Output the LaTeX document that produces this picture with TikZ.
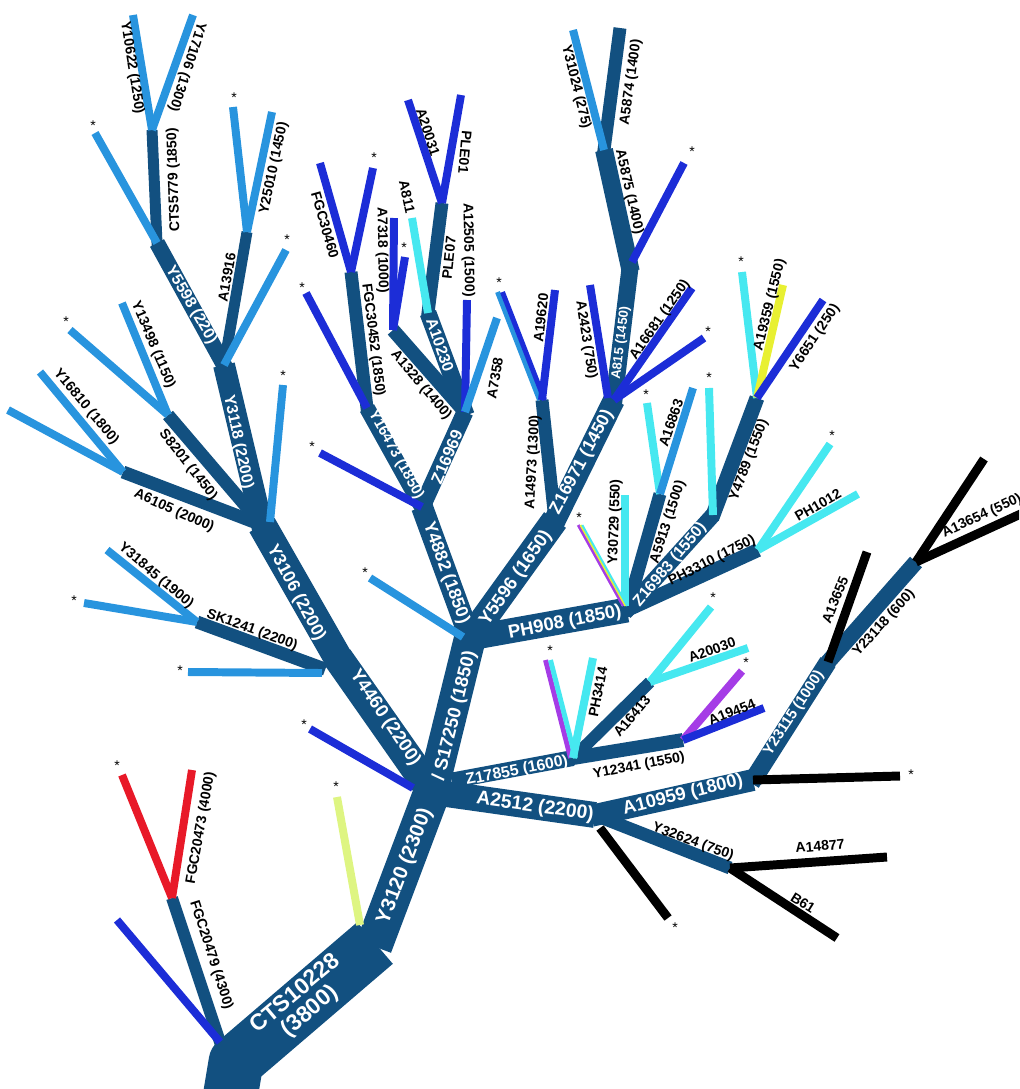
\documentclass[tikz,border=0pt]{standalone}
\usepackage{fontspec}
\setmainfont{Liberation Sans}
\definecolor{cbar}{RGB}{18,80,128}
\definecolor{csky}{RGB}{40,148,222}
\definecolor{croy}{RGB}{28,45,215}
\definecolor{ccyan}{RGB}{70,232,240}
\definecolor{cred}{RGB}{232,25,40}
\definecolor{cyg}{RGB}{222,245,130}
\definecolor{cyel}{RGB}{232,240,50}
\definecolor{cpur}{RGB}{165,60,230}
\begin{document}
\begin{tikzpicture}[x=0.02cm,y=-0.02cm,
  lw/.style={line width=#1*0.5669pt},
  bar/.style={draw=cbar, lw=#1, shorten <=-2pt},
  lf/.style={draw=#1, lw=8},
  blk/.style={draw=black, lw=9},
  lab/.style={text=black, inner sep=0pt, font=\fontsize{8}{9}\selectfont\bfseries},
  wl/.style={text=white, inner sep=0pt, align=center, font=\fontsize{#1}{#1}\selectfont\bfseries},
  st/.style={inner sep=0pt, font=\fontsize{8}{8}\selectfont}]
\useasboundingbox (0,0) rectangle (1019,1089);
\clip (0,0) rectangle (1019,1089);
% ---------- coordinates ----------
\coordinate (t0) at (228,1110);
\coordinate (t1) at (236,1062);
\coordinate (t2) at (375,943);
\coordinate (t3) at (432,792);
\coordinate (y44) at (338,658);
\coordinate (y31) at (262,525);
\coordinate (y3118) at (224,365);
\coordinate (y55) at (157,243);
\coordinate (cts) at (152,130);
\coordinate (a139) at (247,232);
\coordinate (a61) at (123,472);
\coordinate (s82) at (168,415);
\coordinate (sk0) at (322,668);
\coordinate (sk) at (197,622);
\coordinate (fgcA) at (220,1042);
\coordinate (fgc) at (172,898);
\coordinate (s17) at (470,638);
\coordinate (y48) at (422,507);
\coordinate (y16) at (367,408);
\coordinate (fgc3) at (351,272);
\coordinate (z169) at (465,412);
\coordinate (a1328) at (393,330);
\coordinate (a102) at (428,313);
\coordinate (ple) at (442,203);
\coordinate (y5596) at (555,520);
\coordinate (a149) at (542,400);
\coordinate (z1697) at (614,400);
\coordinate (a815) at (630,268);
\coordinate (a5875) at (604,150);
\coordinate (a5874) at (620,28);
\coordinate (ph908) at (627,610);
\coordinate (a5913) at (660,494);
\coordinate (z1698) at (713,515);
\coordinate (y4789) at (757,398);
\coordinate (ph33) at (758,550);
\coordinate (z178s) at (455,780);
\coordinate (z178) at (573,758);
\coordinate (a164) at (650,682);
\coordinate (y123) at (683,740);
\coordinate (a2512) at (595,815);
\coordinate (a109) at (753,780);
\coordinate (y231) at (828,662);
\coordinate (y2318) at (916,562);
\coordinate (y326) at (730,868);
% ---------- bars ----------
\draw[draw=cbar, lw=55, line join=round] (t0) -- (t1) -- (t2);
\draw[bar=37] (t2) -- (t3);
\draw[bar=30] (t3) -- (y44);
\draw[bar=29] (y44) -- (y31);
\draw[bar=22] (y31) -- (y3118);
\draw[bar=16] (y3118) -- (y55);
\draw[bar=11] (y55) -- (cts);
\draw[bar=11] (y3118) -- (a139);
\draw[bar=13] (y31) -- (a61);
\draw[bar=13] (y31) -- (s82);
\draw[bar=13] (sk0) -- (sk);
\draw[bar=12] (fgcA) -- (fgc);
\draw[bar=32] (t3) -- (s17);
\draw[bar=22] (s17) -- (y48);
\draw[bar=16] (y48) -- (y16);
\draw[bar=13] (y16) -- (fgc3);
\draw[bar=17] (y48) -- (z169);
\draw[bar=14] (z169) -- (a1328);
\draw[bar=17] (z169) -- (a102);
\draw[bar=13] (a102) -- (ple);
\draw[bar=27] (s17) -- (y5596);
\draw[bar=13] (y5596) -- (a149);
\draw[bar=22] (y5596) -- (z1697);
\draw[bar=17] (z1697) -- (a815);
\draw[bar=18] (a815) -- (a5875);
\draw[bar=13] (a5875) -- (a5874);
\draw[bar=25] (s17) -- (ph908);
\draw[bar=13] (ph908) -- (a5913);
\draw[bar=16] (ph908) -- (z1698);
\draw[bar=15] (z1698) -- (y4789);
\draw[bar=14] (ph908) -- (ph33);
\draw[bar=16] (z178s) -- (z178);
\draw[bar=12] (z178) -- (a164);
\draw[bar=14] (z178) -- (y123);
\draw[bar=26] (t3) -- (a2512);
\draw[bar=22] (a2512) -- (a109);
\draw[bar=18] (a109) -- (y231);
\draw[bar=16] (y231) -- (y2318);
\draw[bar=13] (a2512) -- (y326);
% ---------- leaf end points ----------
\coordinate (e1) at (133,15);
\coordinate (e2) at (193,15);
\coordinate (e3) at (95,133);
\coordinate (e4) at (233,107);
\coordinate (e5) at (272,112);
\coordinate (e6) at (286,250);
\coordinate (e7) at (122,303);
\coordinate (e8) at (70,330);
\coordinate (e9) at (40,372);
\coordinate (e10) at (8,410);
\coordinate (y31b) at (270,522);
\coordinate (e11) at (283,385);
\coordinate (e12) at (107,550);
\coordinate (e13) at (84,603);
\coordinate (y44b) at (322,673);
\coordinate (e14) at (188,672);
\coordinate (e15) at (117,920);
\coordinate (t3b) at (413,788);
\coordinate (e16) at (310,729);
\coordinate (t2b) at (360,925);
\coordinate (e17) at (337,797);
\coordinate (e18) at (122,775);
\coordinate (e19) at (192,770);
\coordinate (e20) at (320,453);
\coordinate (e21) at (306,293);
\coordinate (e22) at (320,163);
\coordinate (e23) at (373,168);
\coordinate (e24) at (394,218);
\coordinate (e25) at (405,257);
\coordinate (e26) at (408,100);
\coordinate (e27) at (461,95);
\coordinate (e28) at (412,218);
\coordinate (e29) at (467,300);
\coordinate (e30) at (497,318);
\coordinate (s17b) at (463,637);
\coordinate (e31) at (370,578);
\coordinate (e32) at (500,292);
\coordinate (e33) at (555,290);
\coordinate (e34) at (573,30);
\coordinate (a815b) at (632,262);
\coordinate (e35) at (684,163);
\coordinate (z1697b) at (608,398);
\coordinate (e36) at (590,285);
\coordinate (e37) at (692,288);
\coordinate (e38) at (704,338);
\coordinate (ph908b) at (625,606);
\coordinate (e39) at (625,495);
\coordinate (e40) at (580,525);
\coordinate (e41) at (647,403);
\coordinate (e42) at (693,388);
\coordinate (e43) at (709,388);
\coordinate (e44) at (742,272);
\coordinate (e45) at (783,285);
\coordinate (e46) at (823,300);
\coordinate (e47) at (830,444);
\coordinate (e48) at (858,494);
\coordinate (e49) at (548,660);
\coordinate (e50) at (593,658);
\coordinate (e51) at (711,607);
\coordinate (e52) at (748,648);
\coordinate (e53) at (742,671);
\coordinate (e54) at (764,708);
\coordinate (e55) at (900,776);
\coordinate (e56) at (867,552);
\coordinate (e57) at (984,459);
\coordinate (e58) at (1025,512);
\coordinate (a2512b) at (600,828);
\coordinate (e59) at (668,918);
\coordinate (e60) at (887,857);
\coordinate (e61) at (837,938);
% ---------- leaves ----------
\draw[lf=csky] (cts) -- (e1);
\draw[lf=csky] (cts) -- (e2);
\draw[lf=csky] (y55) -- (e3);
\draw[lf=csky] (a139) -- (e4);
\draw[lf=csky] (a139) -- (e5);
\draw[lf=csky] (y3118) -- (e6);
\draw[lf=csky] (s82) -- (e7);
\draw[lf=csky] (s82) -- (e8);
\draw[lf=csky] (a61) -- (e9);
\draw[lf=csky] (a61) -- (e10);
\draw[lf=csky] (y31b) -- (e11);
\draw[lf=csky] (sk) -- (e12);
\draw[lf=csky] (sk) -- (e13);
\draw[lf=csky] (y44b) -- (e14);
\draw[lf=croy] (fgcA) -- (e15);
\draw[lf=croy] (t3b) -- (e16);
\draw[lf=cyg] (t2b) -- (e17);
\draw[lf=cred] (fgc) -- (e18);
\draw[lf=cred] (fgc) -- (e19);
\draw[lf=croy] (y48) -- (e20);
\draw[lf=croy] (y16) -- (e21);
\draw[lf=croy] (fgc3) -- (e22);
\draw[lf=croy] (fgc3) -- (e23);
\draw[lf=croy] (a1328) -- (e24);
\draw[lf=croy] (a1328) -- (e25);
\draw[lf=croy] (ple) -- (e26);
\draw[lf=croy] (ple) -- (e27);
\draw[lf=ccyan] (a102) -- (e28);
\draw[lf=croy] (z169) -- (e29);
\draw[lf=csky] (z169) -- (e30);
\draw[lf=csky] (s17b) -- (e31);
\draw[draw=csky, lw=5] ([xshift=-1.4pt]a149) -- ([xshift=-1.4pt]e32);
\draw[draw=croy, lw=5] ([xshift=1.4pt]a149) -- ([xshift=1.4pt]e32);
\draw[lf=croy] (a149) -- (e33);
\draw[lf=csky] (a5875) -- (e34);
\draw[lf=croy] (a815b) -- (e35);
\draw[lf=croy] (z1697b) -- (e36);
\draw[lf=croy] (z1697) -- (e37);
\draw[lf=croy] (z1697) -- (e38);
\draw[lf=ccyan] (ph908b) -- (e39);
\draw[draw=cpur, lw=3] ([xshift=-1pt]ph908b) -- ([xshift=-1pt]e40);
\draw[draw=cyel, lw=2] ([xshift=0.3pt]ph908b) -- ([xshift=0.3pt]e40);
\draw[draw=ccyan, lw=2] ([xshift=1.3pt]ph908b) -- ([xshift=1.3pt]e40);
\draw[lf=ccyan] (a5913) -- (e41);
\draw[lf=csky] (a5913) -- (e42);
\draw[lf=ccyan] (z1698) -- (e43);
\draw[lf=ccyan] (y4789) -- (e44);
\draw[lf=cyel] (y4789) -- (e45);
\draw[lf=croy] (y4789) -- (e46);
\draw[lf=ccyan] (ph33) -- (e47);
\draw[lf=ccyan] (ph33) -- (e48);
\draw[draw=cpur, lw=5] ([xshift=-1.4pt]z178) -- ([xshift=-1.4pt]e49);
\draw[draw=ccyan, lw=5] ([xshift=1.4pt]z178) -- ([xshift=1.4pt]e49);
\draw[lf=ccyan] (z178) -- (e50);
\draw[lf=ccyan] (a164) -- (e51);
\draw[lf=ccyan] (a164) -- (e52);
\draw[lf=cpur] (y123) -- (e53);
\draw[lf=croy] (y123) -- (e54);
\draw[blk] (a109) -- (e55);
\draw[blk] (y231) -- (e56);
\draw[blk] (y2318) -- (e57);
\draw[blk] (y2318) -- (e58);
\draw[blk] (a2512b) -- (e59);
\draw[blk] (y326) -- (e60);
\draw[blk] (y326) -- (e61);
% ---------- labels ----------
\node[lab, rotate=-81] (n1) at (132,68) {Y10622 (1250)};
\node[lab, rotate=-108] (n2) at (187,67) {Y17106 (1300)};
\node[lab, rotate=92] (n3) at (174,180) {CTS5779 (1850)};
\node[wl=9, rotate=-60] (n4) at (191,305) {Y5598 (220)};
\node[lab, rotate=80] (n5) at (227,277) {A13916};
\node[lab, rotate=78] (n6) at (274,168) {Y25010 (1450)};
\node[lab, rotate=-67] (n7) at (153,345) {Y13498 (1150)};
\node[lab, rotate=-50] (n8) at (86,407) {Y16810 (1800)};
\node[lab, rotate=-52] (n9) at (188,465) {S8201 (1450)};
\node[lab, rotate=-24] (n10) at (174,511) {A6105 (2000)};
\node[lab, rotate=-40] (n11) at (156,576) {Y31845 (1900)};
\node[lab, rotate=-20] (n12) at (252,630) {SK1241 (2200)};
\node[wl=9, rotate=-78] (n13) at (238,442) {Y3118 (2200)};
\node[wl=10, rotate=-62] (n14) at (296,593) {Y3106 (2200)};
\node[wl=10.5, rotate=-56] (n15) at (385,718) {Y4460 (2200)};
\node[wl=10.5, rotate=76] (n16) at (455,716) {/ S17250 (1850)};
\node[wl=11.5, rotate=69] (n17) at (405,866) {Y3120 (2300)};
\node[wl=13, rotate=40] (n18) at (303,1003) {CTS10228\\(3800)};
\node[lab, rotate=-72] (n19) at (211,955) {FGC20479 (4300)};
\node[lab, rotate=80] (n20) at (201,828) {FGC20473 (4000)};
\node[lab, rotate=-74] (n21) at (325,225) {FGC30460};
\node[lab, rotate=-89] (n22) at (382,250) {A7318 (1000)};
\node[lab, rotate=-83] (n23) at (373,340) {FGC30452 (1850)};
\node[lab, rotate=-78] (n24) at (407,197) {A811};
\node[lab, rotate=-72] (n25) at (428,132) {A20031};
\node[lab, rotate=-95] (n26) at (465,152) {PLE01};
\node[lab, rotate=84] (n27) at (449,258) {PLE07};
\node[lab, rotate=-89] (n28) at (468,250) {A12505 (1500)};
\node[wl=9, rotate=-71] (n29) at (440,345) {A10230};
\node[lab, rotate=-50] (n30) at (421,385) {A1328 (1400)};
\node[lab, rotate=80] (n31) at (495,378) {A7358};
\node[wl=8.5, rotate=-61] (n32) at (396,455) {Y16473 (1850)};
\node[wl=9.5, rotate=67] (n33) at (447,457) {Z16969};
\node[wl=10, rotate=-70] (n34) at (446,573) {Y4882 (1850)};
\node[lab, rotate=87] (n35) at (533,462) {A14973 (1300)};
\node[lab, rotate=84] (n36) at (541,318) {A19620};
\node[lab, rotate=-81] (n37) at (586,340) {A2423 (750)};
\node[wl=7.5, rotate=83] (n38) at (621,343) {A815 (1450)};
\node[lab, rotate=55] (n39) at (660,320) {A16681 (1250)};
\node[wl=10, rotate=62] (n40) at (582,462) {Z16971 (1450)};
\node[wl=10.5, rotate=55] (n41) at (516,578) {Y5596 (1650)};
\node[lab, rotate=-77] (n42) at (629,192) {A5875 (1400)};
\node[lab, rotate=82] (n43) at (631,82) {A5874 (1400)};
\node[lab, rotate=-76] (n44) at (576,87) {Y31024 (275)};
\node[lab, rotate=76] (n45) at (770,305) {A19359 (1550)};
\node[lab, rotate=56] (n46) at (815,338) {Y6651 (250)};
\node[lab, rotate=71] (n47) at (671,423) {A16863};
\node[lab, rotate=69] (n48) at (749,460) {Y4789 (1550)};
\node[lab, rotate=72] (n49) at (668,522) {A5913 (1500)};
\node[lab, rotate=88] (n50) at (615,522) {Y30729 (550)};
\node[wl=9, rotate=50] (n51) at (670,565) {Z16983 (1550)};
\node[lab, rotate=27] (n52) at (712,561) {PH3310 (1750)};
\node[lab, rotate=30] (n53) at (818,505) {PH1012};
\node[wl=10.5, rotate=11] (n54) at (565,623) {PH908 (1850)};
\node[lab, rotate=79] (n55) at (598,692) {PH3414};
\node[lab, rotate=50] (n56) at (632,716) {A16413};
\node[lab, rotate=20] (n57) at (712,650) {A20030};
\node[lab, rotate=22] (n58) at (732,712) {A19454};
\node[lab, rotate=11] (n59) at (639,766) {Y12341 (1550)};
\node[wl=9, rotate=11] (n60) at (517,771) {Z17855 (1600)};
\node[wl=11, rotate=-8] (n61) at (535,807) {A2512 (2200)};
\node[wl=10.5, rotate=14] (n62) at (683,795) {A10959 (1800)};
\node[wl=8.5, rotate=57] (n63) at (794,713) {Y23115 (1000)};
\node[lab, rotate=68] (n64) at (835,600) {A13655};
\node[lab, rotate=48] (n65) at (884,623) {Y23118 (600)};
\node[lab, rotate=25] (n66) at (982,516) {A13654 (550)};
\node[lab, rotate=-20] (n67) at (693,842) {Y32624 (750)};
\node[lab, rotate=5] (n68) at (820,846) {A14877};
\node[lab, rotate=-32] (n69) at (803,903) {B61};
% ---------- stars ----------
\foreach \p [count=\i] in {(93,126),(234,98),(287,240),(283,376),(66,322),(74,601),(180,671),(304,725),(117,766),(336,787),(302,288),(374,158),(404,248),(312,447),(365,573),(499,283),(692,152),(708,332),(741,262),(646,395),(709,378),(832,436),(579,518),(550,651),(713,598),(746,663),(911,775),(675,928)}
  \node[st] (star\i) at \p {*};
\end{tikzpicture}
\end{document}
